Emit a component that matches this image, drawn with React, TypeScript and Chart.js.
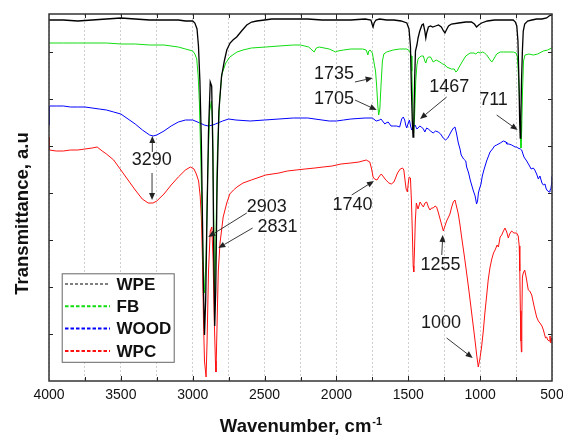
import React, { useEffect, useRef } from "react";
import { Chart, registerables } from "chart.js";
Chart.register(...registerables);

// ---------------- data (wavenumber, cm-1  /  transmittance, a.u.) ----------------
const wpeWn = [4000, 3900, 3800, 3700, 3600, 3500, 3400, 3300, 3200, 3100, 3050, 3000, 2985, 2970, 2960, 2950, 2940, 2932, 2925, 2918, 2910, 2900, 2890, 2878, 2868, 2860, 2853, 2847, 2840, 2830, 2818, 2800, 2780, 2763, 2740, 2720, 2694, 2660, 2624, 2590, 2555, 2500, 2450, 2400, 2300, 2200, 2100, 2000, 1900, 1800, 1760, 1750, 1745, 1738, 1725, 1700, 1650, 1600, 1550, 1510, 1495, 1485, 1478, 1472, 1467, 1462, 1456, 1450, 1440, 1432, 1420, 1405, 1395, 1385, 1378, 1372, 1360, 1345, 1330, 1310, 1290, 1270, 1255, 1245, 1235, 1220, 1200, 1150, 1100, 1060, 1040, 1025, 1010, 990, 950, 900, 850, 800, 770, 755, 745, 737, 730, 725, 721, 717, 712, 706, 700, 690, 670, 640, 607, 570, 537, 520, 505, 500];
const wpeT = [361, 361, 360, 361, 362, 363, 362, 361, 361, 361, 360, 360, 358, 352, 335, 300, 240, 160, 90, 46, 80, 170, 250, 299, 295, 230, 120, 55, 90, 200, 270, 304, 320, 331, 338, 341, 344, 350, 356, 359, 360, 361, 362, 362, 362, 362, 361, 361, 361, 362, 361, 356, 354, 358, 361, 362, 361, 361, 360, 358, 352, 335, 290, 260, 244, 250, 300, 330, 336, 343, 350, 356, 357, 350, 343, 348, 354, 355, 354, 355, 356, 354, 350, 348, 351, 355, 357, 358, 359, 359, 357, 354, 356, 358, 360, 361, 361, 361, 361, 359, 355, 340, 300, 260, 243, 260, 300, 330, 350, 357, 360, 361, 362, 362, 363, 365, 366, 366];

const fbWn = [4000, 3900, 3800, 3700, 3600, 3500, 3400, 3300, 3200, 3100, 3050, 3000, 2985, 2972, 2962, 2954, 2945, 2937, 2928, 2918, 2908, 2895, 2882, 2870, 2862, 2855, 2848, 2840, 2828, 2812, 2797, 2770, 2742, 2692, 2650, 2592, 2492, 2400, 2300, 2250, 2193, 2170, 2155, 2140, 2120, 2050, 2020, 2005, 1990, 1950, 1900, 1818, 1793, 1781, 1775, 1766, 1750, 1738, 1728, 1720, 1712, 1706, 1698, 1690, 1680, 1670, 1651, 1605, 1560, 1511, 1490, 1480, 1475, 1470, 1463, 1456, 1448, 1440, 1432, 1420, 1408, 1395, 1385, 1378, 1370, 1360, 1345, 1327, 1306, 1280, 1260, 1244, 1233, 1200, 1180, 1169, 1160, 1150, 1130, 1100, 1070, 1044, 1030, 1015, 1000, 982, 970, 954, 935, 919, 905, 885, 860, 838, 800, 769, 750, 741, 735, 728, 722, 716, 711, 705, 698, 688, 660, 630, 600, 560, 530, 502, 500];
const fbT = [338, 338, 338, 338, 338, 337, 337, 336, 336, 334, 332, 330, 327, 322, 305, 280, 230, 180, 120, 88, 120, 210, 270, 280, 260, 180, 88, 130, 230, 281, 307, 318, 324, 329, 331, 333, 334, 335, 336, 336, 334, 331, 329, 333, 334, 332, 330, 329, 330, 331, 332, 332, 331, 326, 330, 331, 328, 318, 310, 295, 275, 266, 272, 295, 320, 327, 329, 331, 332, 332, 330, 325, 310, 280, 248, 265, 300, 316, 322, 324, 325, 325, 320, 318, 322, 324, 324, 319, 321, 319, 317, 316, 314, 312, 312, 309, 310, 313, 318, 325, 328, 328, 327, 329, 328, 329, 328, 326, 322, 319, 322, 327, 329, 329, 329, 329, 328, 324, 310, 290, 260, 233, 250, 290, 320, 326, 327, 326, 327, 330, 331, 333, 333];

const woodWn = [4000, 3997, 3950, 3900, 3850, 3800, 3750, 3700, 3650, 3600, 3550, 3500, 3450, 3400, 3350, 3300, 3276, 3250, 3200, 3150, 3100, 3050, 3000, 2950, 2920, 2892, 2860, 2842, 2792, 2750, 2700, 2600, 2500, 2400, 2300, 2250, 2200, 2100, 2050, 2000, 1950, 1900, 1800, 1750, 1723, 1700, 1690, 1663, 1655, 1640, 1620, 1603, 1581, 1560, 1546, 1535, 1525, 1518, 1511, 1500, 1492, 1484, 1476, 1465, 1453, 1440, 1432, 1420, 1408, 1395, 1385, 1372, 1361, 1345, 1327, 1310, 1292, 1275, 1257, 1240, 1225, 1210, 1199, 1185, 1175, 1165, 1152, 1140, 1132, 1115, 1100, 1094, 1080, 1069, 1049, 1035, 1025, 1018, 1012, 1005, 994, 985, 974, 955, 931, 914, 900, 885, 860, 838, 820, 815, 800, 780, 757, 746, 737, 720, 711, 695, 676, 660, 645, 630, 620, 607, 595, 584, 570, 560, 549, 540, 530, 520, 514, 508, 502, 500];
const woodT = [256, 275, 275, 275, 274, 274, 274, 273, 272, 271, 269, 267, 262, 257, 251, 246, 245, 246, 250, 255, 259, 261, 261, 258, 256, 255, 256, 257, 260, 262, 261, 260, 261, 262, 263, 263, 263, 261, 260, 260, 261, 262, 263, 263, 260, 261, 262, 257, 258, 259, 255, 255, 255, 254, 262, 264, 261, 256, 253, 258, 261, 255, 251, 254, 256, 252, 253, 255, 254, 252, 249, 253, 252, 250, 248, 250, 249, 247, 243, 241, 243, 247, 250, 253, 254, 248, 238, 232, 226, 222, 220, 214, 208, 201, 191, 185, 177, 180, 188, 192, 197, 205, 211, 220, 229, 232, 235, 236, 238, 240, 239, 237, 237, 236, 234, 234, 233, 232, 231, 224, 220, 216, 212, 213, 211, 207, 202, 205, 198, 196, 197, 192, 190, 189, 191, 192, 198, 205];

const wpcWn = [4000, 3997, 3950, 3900, 3850, 3800, 3750, 3700, 3665, 3630, 3600, 3550, 3500, 3450, 3400, 3351, 3310, 3276, 3250, 3200, 3150, 3100, 3051, 3016, 2991, 2975, 2959, 2948, 2940, 2932, 2925, 2918, 2907, 2900, 2890, 2878, 2867, 2858, 2850, 2842, 2838, 2830, 2822, 2810, 2788, 2763, 2742, 2716, 2692, 2650, 2592, 2492, 2400, 2342, 2280, 2218, 2150, 2093, 2030, 1968, 1900, 1843, 1793, 1768, 1755, 1745, 1735, 1718, 1700, 1688, 1672, 1656, 1635, 1618, 1600, 1594, 1575, 1556, 1540, 1531, 1522, 1515, 1506, 1500, 1494, 1485, 1478, 1472, 1466, 1462, 1457, 1451, 1444, 1432, 1418, 1405, 1395, 1384, 1372, 1360, 1349, 1338, 1326, 1314, 1303, 1292, 1275, 1256, 1245, 1233, 1220, 1210, 1198, 1187, 1175, 1165, 1152, 1140, 1129, 1110, 1094, 1076, 1059, 1047, 1036, 1024, 1013, 1002, 990, 978, 967, 955, 944, 932, 919, 907, 896, 882, 873, 861, 850, 838, 827, 815, 804, 795, 781, 765, 746, 735, 728, 724, 720, 716, 713, 710, 706, 700, 690, 680, 665, 655, 641, 625, 607, 595, 584, 570, 560, 545, 537, 530, 520, 514, 508, 502, 500];
const wpcT = [244, 231, 230, 230, 231, 231, 232, 233, 234, 230, 227, 221, 211, 201, 191, 182, 178, 178, 180, 187, 196, 204, 211, 214, 212, 207, 200, 185, 164, 120, 60, 20, 4, 40, 110, 150, 154, 120, 60, 20, 9, 60, 110, 138, 164, 178, 187, 191, 194, 198, 201, 206, 208, 210, 211, 212, 213, 214, 215, 217, 218, 219, 221, 219, 212, 204, 202, 201, 205, 207, 204, 201, 198, 197, 199, 201, 208, 212, 213, 211, 200, 192, 189, 198, 204, 203, 180, 150, 115, 109, 130, 160, 178, 172, 179, 176, 174, 178, 179, 174, 171, 173, 173, 175, 174, 169, 160, 150, 155, 160, 164, 167, 174, 179, 181, 175, 167, 156, 144, 125, 108, 88, 68, 54, 41, 26, 14, 22, 34, 50, 68, 85, 101, 113, 122, 128, 131, 136, 134, 144, 146, 150, 153, 149, 143, 147, 150, 148, 148, 145, 135, 110, 70, 40, 29, 60, 104, 108, 111, 104, 91, 90, 86, 75, 64, 60, 58, 55, 51, 43, 44, 41, 40, 45, 38, 43, 41];

const seriesNames = ["WPE", "FB", "WOOD", "WPC"];
const seriesColors = ["#000000", "#10dd10", "#0000ff", "#ff1010"];

const xLabelTicks = [4000, 3500, 3000, 2500, 2000, 1500, 1000, 500];
const xTitle = "Wavenumber, cm";
const xTitleSup = "-1";
const yTitle = "Transmittance, a.u";

// peak annotations (text position and arrows, in data units)
const annoLabels = ["1735", "1705", "1467", "711", "3290", "2903", "2831", "1740", "1255", "1000"];
const annoWn = [2017, 2017, 1215, 907, 3285, 2485, 2410, 1888, 1276, 1272];
const annoT = [307, 282, 294, 281, 221, 174, 154, 176, 116, 58];
const arrowFromWn = [1871, 1871, 1233, 885, 3281, 3283, 2624, 2583, 1894, 1267, 1233];
const arrowFromT = [299, 281, 284, 266, 229, 208, 168, 153, 186, 126, 43];
const arrowToWn = [1748, 1720, 1418, 739, 3281, 3283, 2892, 2822, 1739, 1260, 1052];
const arrowToT = [303, 271, 262, 251, 245, 181, 144, 133, 200, 146, 23];

const FONT = '"Liberation Sans", Arial, sans-serif';

const decorPlugin = {
  id: "decor",
  afterDraw(chart: any) {
    const { ctx, chartArea: a, scales } = chart;
    const x = scales.x;
    const y = scales.y;
    ctx.save();
    const line = (x1: number, y1: number, x2: number, y2: number) => {
      ctx.beginPath();
      ctx.moveTo(x1, y1);
      ctx.lineTo(x2, y2);
      ctx.stroke();
    };
    // inward ticks
    ctx.strokeStyle = "#222";
    ctx.lineWidth = 1;
    ctx.setLineDash([]);
    x.ticks.forEach((t: any) => {
      const px = Math.round(x.getPixelForValue(t.value)) + 0.5;
      if (px < a.left + 2 || px > a.right - 2) return;
      const len = t.value % 500 === 0 ? 5 : 4;
      line(px, a.bottom, px, a.bottom - len);
      line(px, a.top, px, a.top + len);
    });
    y.ticks.forEach((t: any) => {
      const py = Math.round(y.getPixelForValue(t.value)) + 0.5;
      if (py < a.top + 3 || py > a.bottom - 3) return;
      line(a.left, py, a.left + 4, py);
      line(a.right, py, a.right - 4, py);
    });
    // frame
    ctx.strokeStyle = "#333";
    ctx.lineWidth = 1.5;
    ctx.strokeRect(a.left, a.top, a.right - a.left, a.bottom - a.top);

    // x tick labels
    ctx.fillStyle = "#111";
    ctx.font = `14px ${FONT}`;
    ctx.textAlign = "center";
    ctx.textBaseline = "alphabetic";
    xLabelTicks.forEach((v) => {
      ctx.fillText(String(v), x.getPixelForValue(v), a.bottom + 18);
    });

    // x title with superscript
    ctx.font = `bold 18.5px ${FONT}`;
    const w1 = ctx.measureText(xTitle).width;
    ctx.font = `bold 11px ${FONT}`;
    const w2 = ctx.measureText(xTitleSup).width;
    const cx = (a.left + a.right) / 2;
    const sx = cx - (w1 + w2) / 2;
    ctx.textAlign = "left";
    ctx.font = `bold 18.5px ${FONT}`;
    ctx.fillText(xTitle, sx, a.bottom + 51);
    ctx.font = `bold 11px ${FONT}`;
    ctx.fillText(xTitleSup, sx + w1 + 1, a.bottom + 44);

    // y title
    ctx.save();
    ctx.translate(27.5, (a.top + a.bottom) / 2 + 16);
    ctx.rotate(-Math.PI / 2);
    ctx.font = `bold 18.5px ${FONT}`;
    ctx.textAlign = "center";
    ctx.fillText(yTitle, 0, 0);
    ctx.restore();

    // annotations
    ctx.font = `18px ${FONT}`;
    ctx.textAlign = "center";
    ctx.textBaseline = "middle";
    ctx.fillStyle = "#1a1a1a";
    annoLabels.forEach((s, i) => {
      ctx.fillText(s, x.getPixelForValue(annoWn[i]), y.getPixelForValue(annoT[i]));
    });
    ctx.strokeStyle = "#222";
    ctx.fillStyle = "#222";
    ctx.lineWidth = 0.9;
    arrowFromWn.forEach((_, i) => {
      const x1 = x.getPixelForValue(arrowFromWn[i]);
      const y1 = y.getPixelForValue(arrowFromT[i]);
      const x2 = x.getPixelForValue(arrowToWn[i]);
      const y2 = y.getPixelForValue(arrowToT[i]);
      const ang = Math.atan2(y2 - y1, x2 - x1);
      const L = 7, H = 3;
      const bx = x2 - L * Math.cos(ang);
      const by = y2 - L * Math.sin(ang);
      line(x1, y1, bx, by);
      ctx.beginPath();
      ctx.moveTo(x2, y2);
      ctx.lineTo(bx + H * Math.sin(ang), by - H * Math.cos(ang));
      ctx.lineTo(bx - H * Math.sin(ang), by + H * Math.cos(ang));
      ctx.closePath();
      ctx.fill();
    });

    // legend
    const lx = a.left + 12.7;
    const ly = a.bottom - 107.7;
    ctx.fillStyle = "#ffffff";
    ctx.fillRect(lx, ly, 112.6, 89);
    ctx.strokeStyle = "#666";
    ctx.lineWidth = 1;
    ctx.strokeRect(lx + 0.5, ly + 0.5, 112, 88.5);
    seriesNames.forEach((name, i) => {
      const ry = a.bottom - 97 + i * 22.3;
      ctx.strokeStyle = seriesColors[i];
      ctx.lineWidth = i === 0 ? 1 : 2;
      ctx.setLineDash(i === 0 ? [3, 2] : [3.5, 2]);
      line(a.left + 16, ry, a.left + 61, ry);
      ctx.setLineDash([]);
      ctx.fillStyle = "#111";
      ctx.font = `bold 17px ${FONT}`;
      ctx.textAlign = "left";
      ctx.textBaseline = "middle";
      ctx.fillText(name, a.left + 67.5, ry + 1);
    });
    ctx.restore();
  },
};

const seriesWn = [wpeWn, fbWn, woodWn, wpcWn];
const seriesT = [wpeT, fbT, woodT, wpcT];

export default function App() {
  const ref = useRef<HTMLCanvasElement | null>(null);
  useEffect(() => {
    document.body.style.margin = "0";
    const canvas = ref.current;
    if (!canvas) return;
    const chart = new Chart(canvas, {
      type: "line",
      data: {
        datasets: seriesNames.map((name, i) => ({
          label: name,
          data: seriesWn[i].map((w, j) => ({ x: w, y: seriesT[i][j] })),
          borderColor: seriesColors[i],
          borderWidth: i === 0 ? 1.3 : 1,
          pointRadius: 0,
          tension: 0,
          fill: false,
        })),
      },
      options: {
        responsive: false,
        animation: false,
        devicePixelRatio: 1,
        layout: { padding: { top: 14, right: 11, left: 0, bottom: 0 } },
        plugins: { legend: { display: false }, tooltip: { enabled: false } },
        scales: {
          x: {
            type: "linear",
            reverse: true,
            min: 500,
            max: 4000,
            afterFit: (s: any) => {
              s.height = 57;
            },
            ticks: { stepSize: 250, display: false, autoSkip: false },
            grid: { display: true, color: "#cfcfcf", lineWidth: 1, drawTicks: false },
            border: { display: false, dash: [2, 2] },
          },
          y: {
            type: "linear",
            min: 0,
            max: 367,
            afterFit: (s: any) => {
              s.width = 49;
            },
            ticks: { stepSize: 47, display: false },
            grid: { display: false, drawTicks: false },
            border: { display: false },
          },
        },
      },
      plugins: [decorPlugin],
    });
    return () => chart.destroy();
  }, []);
  return (
    <div style={{ width: 563, height: 438 }}>
      <canvas ref={ref} width={563} height={438} style={{ display: "block" }} />
    </div>
  );
}
